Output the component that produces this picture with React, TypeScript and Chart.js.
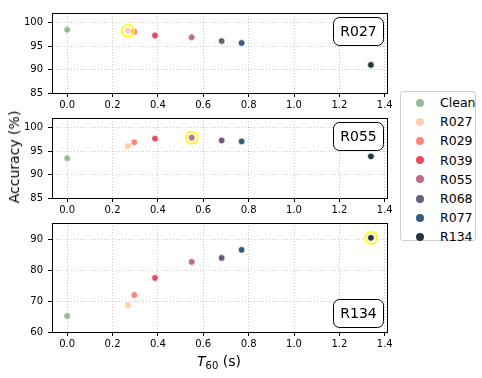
import React, { useEffect, useRef } from "react";
import { Chart, registerables } from "chart.js";

Chart.register(...registerables);

// ---------------- data ----------------
const categories = ["Clean", "R027", "R029", "R039", "R055", "R068", "R077", "R134"];
const t60 = [0, 0.268, 0.296, 0.387, 0.549, 0.681, 0.769, 1.339];
const colors = ["#99B898", "#FECEAB", "#FF847C", "#E84A5F", "#C06C84", "#6C5B7B", "#355C7D", "#2A363B"];

const panelNames = ["R027", "R055", "R134"];
const accR027 = [98.5, 98.3, 98.1, 97.3, 96.9, 96.1, 95.7, 91.0];
const accR055 = [93.5, 96.1, 96.9, 97.7, 97.9, 97.3, 97.1, 93.9];
const accR134 = [65.2, 68.7, 72.0, 77.5, 82.7, 84.0, 86.6, 90.5];
const bestIndex = [1, 4, 7];

const xTicks = [0, 0.2, 0.4, 0.6, 0.8, 1.0, 1.2, 1.4];
const yTicksUpper = [85, 90, 95, 100];
const yTicksLower = [60, 70, 80, 90];

const FONT = "'DejaVu Sans', sans-serif";

const framePlugin = {
  id: "frameAndLabel",
  beforeDatasetsDraw(chart: any) {
    const { ctx, chartArea } = chart;
    const l = Math.round(chartArea.left - 0.5) + 0.5;
    const t = Math.round(chartArea.top - 0.5) + 0.5;
    const r = Math.round(chartArea.right - 0.5) + 0.5;
    const b = Math.round(chartArea.bottom - 0.5) + 0.5;
    ctx.save();
    ctx.strokeStyle = "#000";
    ctx.lineWidth = 1;
    ctx.strokeRect(l, t, r - l, b - t);
    ctx.restore();
  },
  afterDatasetsDraw(chart: any) {
    const opts = chart.options.plugins.frameAndLabel || {};
    if (!opts.text) return;
    const { ctx, chartArea } = chart;
    const w = 50;
    const h = 28;
    const x = Math.round(chartArea.right - 4 - w) + 0.5;
    const y =
      opts.loc === "lower"
        ? Math.round(chartArea.bottom - 5 - h) + 0.5
        : Math.round(chartArea.top + 4) + 0.5;
    ctx.save();
    ctx.beginPath();
    (ctx as any).roundRect(x, y, w, h, 6);
    ctx.fillStyle = "rgba(255,255,255,0.9)";
    ctx.fill();
    ctx.strokeStyle = "#000";
    ctx.lineWidth = 1;
    ctx.stroke();
    ctx.fillStyle = "#000";
    ctx.font = `14px ${FONT}`;
    ctx.textAlign = "center";
    ctx.textBaseline = "middle";
    ctx.fillText(opts.text, x + w / 2, y + h / 2 + 1);
    ctx.restore();
  },
};

type PanelProps = {
  name: string;
  values: number[];
  best: number;
  yMin: number;
  yMax: number;
  yTicks: number[];
  areaTop: number;
  areaHeight: number;
  loc: "upper" | "lower";
};

const PAD_TOP = 5;
const X_AXIS_H = 20;
const CANVAS_W = 400;

function Panel(p: PanelProps) {
  const ref = useRef<HTMLCanvasElement | null>(null);
  useEffect(() => {
    if (!ref.current) return;
    const tickFont = { family: FONT, size: 10 };
    const datasets: any[] = categories.map((c, i) => ({
      label: c,
      data: [{ x: t60[i], y: p.values[i] }],
      backgroundColor: colors[i],
      borderColor: "#ffffff",
      borderWidth: 0.8,
      pointRadius: 3.4,
      order: categories.length - i,
    }));
    datasets.push({
      label: "best",
      data: [{ x: t60[p.best], y: p.values[p.best] }],
      backgroundColor: "rgba(0,0,0,0)",
      borderColor: "#ffff00",
      borderWidth: 1.8,
      pointRadius: 6,
      order: -1,
    });
    const chart = new Chart(ref.current, {
      type: "scatter",
      data: { datasets },
      options: {
        responsive: false,
        animation: false,
        events: [],
        layout: { padding: { top: PAD_TOP, right: 13, left: 0, bottom: 0 } },
        plugins: {
          legend: { display: false },
          tooltip: { enabled: false },
          frameAndLabel: { text: p.name, loc: p.loc },
        } as any,
        scales: {
          x: {
            type: "linear",
            min: -0.067,
            max: 1.41,
            afterBuildTicks: (s: any) => {
              s.ticks = xTicks.map((v) => ({ value: v }));
            },
            afterFit: (s: any) => {
              s.height = X_AXIS_H;
            },
            ticks: {
              callback: (v: any) => Number(v).toFixed(1),
              font: tickFont,
              color: "#000",
              padding: 2,
              maxRotation: 0,
              autoSkip: false,
            },
            grid: {
              color: "rgba(0,0,0,0.25)",
              lineWidth: 0.8,
              tickColor: "#000",
              tickLength: 4,
              tickWidth: 1,
            },
            border: { color: "#000", width: 1, dash: [1, 2] },
          },
          y: {
            type: "linear",
            min: p.yMin,
            max: p.yMax,
            afterBuildTicks: (s: any) => {
              s.ticks = p.yTicks.map((v) => ({ value: v }));
            },
            afterFit: (s: any) => {
              s.width = 52;
            },
            ticks: {
              callback: (v: any) => String(v),
              font: tickFont,
              color: "#000",
              padding: 5,
              autoSkip: false,
            },
            grid: {
              color: "rgba(0,0,0,0.25)",
              lineWidth: 0.8,
              tickColor: "#000",
              tickLength: 4,
              tickWidth: 1,
            },
            border: { color: "#000", width: 1, dash: [1, 2] },
          },
        },
      } as any,
      plugins: [framePlugin],
    });
    return () => chart.destroy();
  }, []);
  return (
    <canvas
      ref={ref}
      width={CANVAS_W}
      height={PAD_TOP + p.areaHeight + X_AXIS_H}
      style={{
        position: "absolute",
        left: 0,
        top: p.areaTop - PAD_TOP,
        width: CANVAS_W,
        height: PAD_TOP + p.areaHeight + X_AXIS_H,
      }}
    />
  );
}

function Legend() {
  return (
    <div
      style={{
        position: "absolute",
        left: 400,
        top: 91,
        width: 76,
        height: 150,
        border: "1px solid #d0d0d0",
        borderRadius: 3,
        background: "#fff",
        boxSizing: "border-box",
        fontFamily: FONT,
        fontSize: 12.5,
        color: "#000",
      }}
    >
      {categories.map((c, i) => (
        <div
          key={c}
          style={{
            position: "absolute",
            left: 0,
            top: 1 + i * 19.2,
            height: 19,
            width: 76,
            display: "flex",
            alignItems: "center",
          }}
        >
          <span
            style={{
              display: "inline-block",
              width: 8,
              height: 8,
              borderRadius: "50%",
              background: colors[i],
              marginLeft: 15,
              marginRight: 16,
            }}
          />
          <span>{c}</span>
        </div>
      ))}
    </div>
  );
}

export default function App() {
  return (
    <div
      style={{
        position: "fixed",
        left: 0,
        top: 0,
        width: 482,
        height: 378,
        background: "#fff",
        overflow: "hidden",
      }}
    >
      <Panel name={panelNames[0]} values={accR027} best={bestIndex[0]} yMin={85} yMax={102.1} yTicks={yTicksUpper} areaTop={7} areaHeight={86} loc="upper" />
      <Panel name={panelNames[1]} values={accR055} best={bestIndex[1]} yMin={85} yMax={102.1} yTicks={yTicksUpper} areaTop={112} areaHeight={86} loc="upper" />
      <Panel name={panelNames[2]} values={accR134} best={bestIndex[2]} yMin={60} yMax={95.3} yTicks={yTicksLower} areaTop={217} areaHeight={115} loc="lower" />
      <div
        style={{
          position: "absolute",
          left: 14,
          top: 157,
          transform: "translate(-50%, -50%) rotate(-90deg)",
          whiteSpace: "nowrap",
          fontFamily: FONT,
          fontSize: 14,
          color: "#000",
        }}
      >
        Accuracy (%)
      </div>
      <div
        style={{
          position: "absolute",
          left: 219,
          top: 362,
          transform: "translate(-50%, -50%)",
          whiteSpace: "nowrap",
          fontFamily: FONT,
          fontSize: 14,
          color: "#000",
        }}
      >
        <i>T</i>
        <sub style={{ fontSize: 10, verticalAlign: "-3px" }}>60</sub> (s)
      </div>
      <Legend />
    </div>
  );
}
